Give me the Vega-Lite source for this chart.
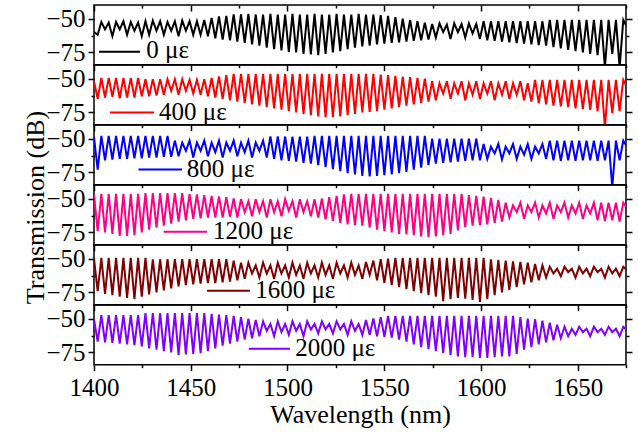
{
"$schema": "https://vega.github.io/schema/vega-lite/v6.json",
"background": "white",
"padding": {"left": 21, "top": 3, "right": 8, "bottom": 5},
"bounds": "flush",
"spacing": 0,
"config": {
 "view": {"stroke": "#000000", "strokeWidth": 1.5},
 "font": "Liberation Serif",
 "line": {"strokeWidth": 2},
 "axis": {"domain": false, "grid": false, "labelFont": "Liberation Serif", "labelFontSize": 25, "labelColor": "#000000", "titleFont": "Liberation Serif", "titleFontSize": 26, "titleFontWeight": "normal", "titleColor": "#000000", "tickColor": "#000000", "tickWidth": 1.5, "labelFlush": false, "labelOverlap": false}
},
"data": {"values": [
{"x":1400.0,"a":-60,"b":-52,"c":-49,"d":-47,"e":-50,"f":-50.5},
{"x":1401.9,"a":-62,"b":-65,"c":-73,"d":-74,"e":-74,"f":-67},
{"x":1403.8,"a":-52.5,"b":-49.5,"c":-48,"d":-46.5,"e":-49.5,"f":-47.5},
{"x":1405.7,"a":-58,"b":-64,"c":-66,"d":-75,"e":-76,"f":-67.5},
{"x":1407.6,"a":-53,"b":-49.5,"c":-48,"d":-46.5,"e":-49.5,"f":-47.5},
{"x":1409.5,"a":-63,"b":-63.5,"c":-65.5,"d":-76,"e":-77,"f":-68},
{"x":1411.4,"a":-52.5,"b":-49.5,"c":-48,"d":-46.5,"e":-49.5,"f":-47.5},
{"x":1413.3,"a":-58,"b":-64.5,"c":-65,"d":-77.5,"e":-78,"f":-68.5},
{"x":1415.2,"a":-52,"b":-49.5,"c":-48,"d":-46.5,"e":-49.5,"f":-47.5},
{"x":1417.1,"a":-62,"b":-64,"c":-65,"d":-77.5,"e":-79,"f":-69},
{"x":1419.0,"a":-52.5,"b":-49.5,"c":-48,"d":-46.5,"e":-49.5,"f":-47.5},
{"x":1420.9,"a":-59,"b":-64,"c":-64.5,"d":-77,"e":-80,"f":-69.5},
{"x":1422.8,"a":-53,"b":-49.5,"c":-48,"d":-46.5,"e":-49.5,"f":-47.5},
{"x":1424.7,"a":-63,"b":-63,"c":-64.5,"d":-75,"e":-78,"f":-70.5},
{"x":1426.6,"a":-52,"b":-50.5,"c":-48,"d":-46,"e":-49.5,"f":-46},
{"x":1428.5,"a":-62,"b":-63,"c":-64,"d":-73,"e":-76.5,"f":-72},
{"x":1430.4,"a":-51.5,"b":-50.5,"c":-48,"d":-46,"e":-50.5,"f":-46},
{"x":1432.3,"a":-59,"b":-62.5,"c":-64,"d":-71.5,"e":-75,"f":-73},
{"x":1434.2,"a":-52,"b":-50.5,"c":-48,"d":-46,"e":-50.5,"f":-46},
{"x":1436.1,"a":-62,"b":-62,"c":-63.5,"d":-70,"e":-73.5,"f":-74},
{"x":1438.0,"a":-52.5,"b":-50.5,"c":-48,"d":-46,"e":-50.5,"f":-46},
{"x":1439.9,"a":-59,"b":-59,"c":-63.5,"d":-68.5,"e":-72,"f":-75},
{"x":1441.8,"a":-52,"b":-50.5,"c":-51.5,"d":-46,"e":-50.5,"f":-46},
{"x":1443.7,"a":-63,"b":-62,"c":-63,"d":-67,"e":-70.5,"f":-77},
{"x":1445.6,"a":-51.5,"b":-50.5,"c":-53,"d":-46,"e":-50.5,"f":-46},
{"x":1447.5,"a":-59,"b":-59,"c":-59,"d":-66,"e":-69.5,"f":-76.5},
{"x":1449.4,"a":-52,"b":-51,"c":-51.5,"d":-46.5,"e":-50.5,"f":-46},
{"x":1451.3,"a":-62,"b":-61,"c":-64,"d":-65,"e":-69,"f":-76},
{"x":1453.2,"a":-52,"b":-51,"c":-53,"d":-47,"e":-50.5,"f":-46},
{"x":1455.1,"a":-62,"b":-62,"c":-59,"d":-64.5,"e":-68.5,"f":-75.5},
{"x":1457.0,"a":-51,"b":-50.5,"c":-51.5,"d":-47.5,"e":-50.5,"f":-46},
{"x":1458.9,"a":-63,"b":-63,"c":-63,"d":-64,"e":-68,"f":-74},
{"x":1460.8,"a":-49.5,"b":-49.5,"c":-53,"d":-48,"e":-50.5,"f":-46.5},
{"x":1462.7,"a":-64.5,"b":-64,"c":-60,"d":-64,"e":-68,"f":-72},
{"x":1464.6,"a":-48.5,"b":-48.5,"c":-51.5,"d":-48.5,"e":-50.5,"f":-47},
{"x":1466.5,"a":-65.5,"b":-65,"c":-64,"d":-64,"e":-67.5,"f":-70},
{"x":1468.4,"a":-48,"b":-47.5,"c":-53,"d":-49,"e":-50.5,"f":-47.5},
{"x":1470.3,"a":-66,"b":-66,"c":-59,"d":-63.5,"e":-67,"f":-68.5},
{"x":1472.2,"a":-47,"b":-46.5,"c":-51.5,"d":-50,"e":-51.5,"f":-48},
{"x":1474.1,"a":-67,"b":-67,"c":-63,"d":-64,"e":-66,"f":-67},
{"x":1476.0,"a":-47,"b":-46.5,"c":-53,"d":-50.5,"e":-53,"f":-49},
{"x":1477.9,"a":-68,"b":-68,"c":-60,"d":-60,"e":-65,"f":-65.5},
{"x":1479.8,"a":-46.5,"b":-46.5,"c":-51.5,"d":-52,"e":-53,"f":-50},
{"x":1481.7,"a":-69,"b":-69,"c":-64,"d":-63,"e":-61,"f":-64.5},
{"x":1483.6,"a":-47,"b":-46.5,"c":-53,"d":-50.5,"e":-55,"f":-51},
{"x":1485.5,"a":-70,"b":-70,"c":-59,"d":-60,"e":-64,"f":-63},
{"x":1487.4,"a":-47,"b":-46.5,"c":-51.5,"d":-52,"e":-53,"f":-52},
{"x":1489.3,"a":-71.5,"b":-71,"c":-64,"d":-64,"e":-61,"f":-59},
{"x":1491.2,"a":-46.5,"b":-46.5,"c":-48.5,"d":-50.5,"e":-55,"f":-54},
{"x":1493.1,"a":-72.5,"b":-72,"c":-65,"d":-60,"e":-65,"f":-63},
{"x":1495.0,"a":-47,"b":-46.5,"c":-48.5,"d":-52,"e":-53,"f":-52},
{"x":1496.9,"a":-73.5,"b":-73,"c":-66,"d":-63,"e":-61,"f":-60},
{"x":1498.8,"a":-47,"b":-46.5,"c":-48.5,"d":-50.5,"e":-55,"f":-54},
{"x":1500.7,"a":-74.5,"b":-74,"c":-66.5,"d":-59,"e":-64,"f":-62},
{"x":1502.6,"a":-46.5,"b":-46.5,"c":-48.5,"d":-52,"e":-53,"f":-52},
{"x":1504.5,"a":-75,"b":-75,"c":-67,"d":-64,"e":-62,"f":-59},
{"x":1506.4,"a":-47,"b":-46.5,"c":-48.5,"d":-50.5,"e":-55,"f":-54},
{"x":1508.3,"a":-76,"b":-76,"c":-68,"d":-60,"e":-65,"f":-63},
{"x":1510.2,"a":-47,"b":-46.5,"c":-48.5,"d":-52,"e":-53,"f":-52},
{"x":1512.1,"a":-76.5,"b":-77,"c":-68.5,"d":-63,"e":-61,"f":-58},
{"x":1514.0,"a":-46.5,"b":-46.5,"c":-48,"d":-50.5,"e":-55,"f":-54},
{"x":1515.9,"a":-77,"b":-78,"c":-69.5,"d":-64,"e":-64,"f":-61},
{"x":1517.8,"a":-47,"b":-46.5,"c":-48,"d":-50,"e":-53,"f":-52},
{"x":1519.7,"a":-76,"b":-78.5,"c":-71,"d":-65.5,"e":-62,"f":-58},
{"x":1521.6,"a":-47,"b":-46.5,"c":-48,"d":-49,"e":-55,"f":-54},
{"x":1523.5,"a":-75,"b":-78.5,"c":-72.5,"d":-66.5,"e":-65,"f":-61},
{"x":1525.4,"a":-46.5,"b":-46.5,"c":-48,"d":-48,"e":-53,"f":-52},
{"x":1527.3,"a":-74,"b":-78,"c":-74,"d":-68,"e":-61,"f":-58},
{"x":1529.2,"a":-47,"b":-46.5,"c":-48,"d":-47,"e":-55,"f":-54},
{"x":1531.1,"a":-72.5,"b":-77,"c":-75.5,"d":-69,"e":-64,"f":-62},
{"x":1533.0,"a":-47,"b":-46.5,"c":-48,"d":-46.5,"e":-53,"f":-52},
{"x":1534.9,"a":-71.5,"b":-76,"c":-76.5,"d":-69.5,"e":-62,"f":-59},
{"x":1536.8,"a":-46.5,"b":-46.5,"c":-48,"d":-46.5,"e":-55,"f":-54},
{"x":1538.7,"a":-70.5,"b":-75,"c":-77.5,"d":-70,"e":-65,"f":-62},
{"x":1540.6,"a":-47,"b":-46.5,"c":-48,"d":-46.5,"e":-52.5,"f":-51},
{"x":1542.5,"a":-70,"b":-74.5,"c":-78,"d":-71.5,"e":-62,"f":-62},
{"x":1544.4,"a":-47,"b":-46.5,"c":-48,"d":-46.5,"e":-51.5,"f":-50},
{"x":1546.3,"a":-69,"b":-74,"c":-77.5,"d":-73,"e":-66,"f":-63},
{"x":1548.2,"a":-47.5,"b":-47,"c":-48,"d":-46.5,"e":-50.5,"f":-49},
{"x":1550.1,"a":-68.5,"b":-73,"c":-77,"d":-74,"e":-68,"f":-63.5},
{"x":1552.0,"a":-48,"b":-47.5,"c":-48,"d":-46.5,"e":-50,"f":-48},
{"x":1553.9,"a":-68,"b":-72,"c":-76.5,"d":-75,"e":-69.5,"f":-64},
{"x":1555.8,"a":-49,"b":-48,"c":-48,"d":-46.5,"e":-49.5,"f":-48},
{"x":1557.7,"a":-67.5,"b":-71,"c":-75.5,"d":-76,"e":-71,"f":-65.5},
{"x":1559.6,"a":-50,"b":-48.5,"c":-48,"d":-46.5,"e":-49.5,"f":-48},
{"x":1561.5,"a":-67,"b":-70,"c":-74.5,"d":-76.5,"e":-72.5,"f":-67},
{"x":1563.4,"a":-51,"b":-49,"c":-48,"d":-46.5,"e":-49.5,"f":-48},
{"x":1565.3,"a":-66.5,"b":-69,"c":-73,"d":-77,"e":-74,"f":-69},
{"x":1567.2,"a":-52,"b":-49.5,"c":-48,"d":-46.5,"e":-49.5,"f":-48},
{"x":1569.1,"a":-66,"b":-68,"c":-71.5,"d":-78,"e":-75.5,"f":-71},
{"x":1571.0,"a":-53,"b":-50,"c":-48,"d":-46.5,"e":-49.5,"f":-48},
{"x":1572.9,"a":-65.5,"b":-67,"c":-69.5,"d":-78.5,"e":-77,"f":-72.5},
{"x":1574.8,"a":-54,"b":-52,"c":-50,"d":-46.5,"e":-49.5,"f":-48},
{"x":1576.7,"a":-64,"b":-66,"c":-68.5,"d":-78,"e":-78,"f":-74},
{"x":1578.6,"a":-53.5,"b":-53.5,"c":-50,"d":-46.5,"e":-49.5,"f":-48},
{"x":1580.5,"a":-60,"b":-61,"c":-68,"d":-77,"e":-81.5,"f":-75.5},
{"x":1582.4,"a":-54.5,"b":-52,"c":-50,"d":-46.5,"e":-49.5,"f":-48},
{"x":1584.3,"a":-65,"b":-65,"c":-67.5,"d":-76,"e":-80,"f":-77},
{"x":1586.2,"a":-53.5,"b":-53.5,"c":-50,"d":-46.5,"e":-49.5,"f":-48},
{"x":1588.1,"a":-60,"b":-61,"c":-67,"d":-73.5,"e":-79,"f":-78},
{"x":1590.0,"a":-54,"b":-52,"c":-50,"d":-46.5,"e":-49.5,"f":-48},
{"x":1591.9,"a":-64,"b":-66,"c":-66.5,"d":-71,"e":-79.5,"f":-78.5},
{"x":1593.8,"a":-53.5,"b":-53.5,"c":-50,"d":-47.5,"e":-49.5,"f":-48},
{"x":1595.7,"a":-61,"b":-62,"c":-66,"d":-70,"e":-80.5,"f":-78.5},
{"x":1597.6,"a":-54,"b":-52,"c":-50,"d":-48,"e":-49.5,"f":-48},
{"x":1599.5,"a":-65,"b":-65,"c":-66,"d":-69.5,"e":-82,"f":-79},
{"x":1601.4,"a":-52,"b":-53.5,"c":-54,"d":-48.5,"e":-49.5,"f":-48},
{"x":1603.3,"a":-66,"b":-61,"c":-65,"d":-69,"e":-80,"f":-79},
{"x":1605.2,"a":-52,"b":-52,"c":-56,"d":-49.5,"e":-50.5,"f":-48},
{"x":1607.1,"a":-66.5,"b":-66,"c":-61,"d":-68,"e":-77,"f":-78.5},
{"x":1609.0,"a":-52,"b":-53.5,"c":-54,"d":-51,"e":-51,"f":-48},
{"x":1610.9,"a":-67,"b":-62,"c":-65.5,"d":-67,"e":-75,"f":-78},
{"x":1612.8,"a":-52,"b":-52,"c":-56,"d":-53,"e":-51.5,"f":-48},
{"x":1614.7,"a":-67.5,"b":-65,"c":-61,"d":-64,"e":-73,"f":-78},
{"x":1616.6,"a":-52,"b":-53.5,"c":-54,"d":-55,"e":-52,"f":-48},
{"x":1618.5,"a":-68,"b":-62,"c":-65,"d":-60,"e":-71,"f":-76},
{"x":1620.4,"a":-52,"b":-52,"c":-56,"d":-53,"e":-52.5,"f":-49},
{"x":1622.3,"a":-68.5,"b":-66,"c":-62,"d":-65,"e":-69,"f":-73},
{"x":1624.2,"a":-52,"b":-53.5,"c":-54,"d":-55,"e":-53,"f":-50},
{"x":1626.1,"a":-69,"b":-67,"c":-65,"d":-60,"e":-67.5,"f":-71},
{"x":1628.0,"a":-52,"b":-51,"c":-56,"d":-53,"e":-54,"f":-50.5},
{"x":1629.9,"a":-69.5,"b":-68,"c":-61,"d":-64,"e":-66,"f":-69},
{"x":1631.8,"a":-52,"b":-51,"c":-54,"d":-55,"e":-55,"f":-51.5},
{"x":1633.7,"a":-70,"b":-69,"c":-65,"d":-61,"e":-64,"f":-67.5},
{"x":1635.6,"a":-51,"b":-51,"c":-51.5,"d":-53,"e":-56,"f":-53},
{"x":1637.5,"a":-71,"b":-70,"c":-66,"d":-65,"e":-61,"f":-66},
{"x":1639.4,"a":-51,"b":-51,"c":-51.5,"d":-55,"e":-57.5,"f":-54.5},
{"x":1641.3,"a":-72,"b":-70.5,"c":-66.5,"d":-60,"e":-63,"f":-64.5},
{"x":1643.2,"a":-51,"b":-51,"c":-51.5,"d":-53,"e":-56,"f":-56},
{"x":1645.1,"a":-73,"b":-71,"c":-66,"d":-64,"e":-60,"f":-63},
{"x":1647.0,"a":-51,"b":-51,"c":-51.5,"d":-55,"e":-57.5,"f":-57.5},
{"x":1648.9,"a":-74,"b":-72,"c":-66.5,"d":-61,"e":-64,"f":-62},
{"x":1650.8,"a":-51,"b":-51,"c":-51.5,"d":-53,"e":-56,"f":-56},
{"x":1652.7,"a":-75,"b":-72.5,"c":-66,"d":-65,"e":-61,"f":-60},
{"x":1654.6,"a":-51,"b":-51,"c":-51.5,"d":-55,"e":-57.5,"f":-57.5},
{"x":1656.5,"a":-76,"b":-73,"c":-66,"d":-61,"e":-63,"f":-63},
{"x":1658.4,"a":-51,"b":-51,"c":-51.5,"d":-53,"e":-56,"f":-56},
{"x":1660.3,"a":-77,"b":-74,"c":-66.5,"d":-66,"e":-60,"f":-60},
{"x":1662.2,"a":-51,"b":-51,"c":-51.5,"d":-53,"e":-57.5,"f":-57.5},
{"x":1664.1,"a":-86,"b":-86,"c":-66,"d":-66.5,"e":-64,"f":-62},
{"x":1666.0,"a":-51,"b":-51,"c":-51.5,"d":-53,"e":-56,"f":-56},
{"x":1667.9,"a":-76,"b":-75.5,"c":-86,"d":-66,"e":-61,"f":-60},
{"x":1669.8,"a":-51,"b":-51,"c":-51.5,"d":-53,"e":-57.5,"f":-57.5},
{"x":1671.7,"a":-86,"b":-74,"c":-66,"d":-67,"e":-63,"f":-63},
{"x":1673.6,"a":-51,"b":-51,"c":-51.5,"d":-53,"e":-56,"f":-56},
{"x":1675.0,"a":-55,"b":-55,"c":-55,"d":-56,"e":-58,"f":-58}
]},
"vconcat": [
{"width":532,"height":59.67,
 "layer":[
  {"mark":{"type":"line","color":"#000000","clip":true},
   "encoding":{"x":{"field":"x","type":"quantitative","scale":{"domain":[1400,1675],"nice":false,"zero":false},"axis":{"orient":"bottom","values":[1400,1450,1500,1550,1600,1650],"labels":false,"tickSize":6,"title":null}},
               "y":{"field":"a","type":"quantitative","scale":{"domain":[-84,-40],"nice":false,"zero":false},"axis":{"orient":"left","values":[-75,-50],"labelExpr":"datum.value == -50 ? '−50' : '−75'","tickSize":6,"labelPadding":3,"title":null}}}},
  {"mark":{"type":"line","opacity":0,"clip":true},
   "encoding":{"x":{"field":"x","type":"quantitative","scale":{"domain":[1400,1675],"nice":false,"zero":false},"axis":{"orient":"bottom","values":[1425,1475,1525,1575,1625,1675],"labels":false,"tickSize":3,"title":null}},
               "y":{"field":"a","type":"quantitative","scale":{"domain":[-84,-40],"nice":false,"zero":false},"axis":{"orient":"left","values":[-62.5],"labels":false,"tickSize":3,"title":null}}}},
  {"mark":{"type":"line","opacity":0,"clip":true},
   "encoding":{"x":{"field":"x","type":"quantitative","scale":{"domain":[1400,1675],"nice":false,"zero":false},"axis":{"orient":"top","values":[1400,1450,1500,1550,1600,1650],"labels":false,"tickSize":-6,"title":null}},
               "y":{"field":"a","type":"quantitative","scale":{"domain":[-84,-40],"nice":false,"zero":false},"axis":{"orient":"right","values":[-75,-50],"labels":false,"tickSize":6,"title":null}}}},
  {"mark":{"type":"line","opacity":0,"clip":true},
   "encoding":{"x":{"field":"x","type":"quantitative","scale":{"domain":[1400,1675],"nice":false,"zero":false},"axis":{"orient":"top","values":[1425,1475,1525,1575,1625,1675],"labels":false,"tickSize":-3,"title":null}},
               "y":{"field":"a","type":"quantitative","scale":{"domain":[-84,-40],"nice":false,"zero":false},"axis":{"orient":"right","values":[-62.5],"labels":false,"tickSize":3,"title":null}}}},
  {"data":{"values":[{}]},"mark":{"type":"rule","color":"#000000","strokeWidth":2},
   "encoding":{"x":{"datum":1402.6,"type":"quantitative","axis":null},"x2":{"datum":1423.8},"y":{"datum":-74.5,"type":"quantitative","axis":null}}},
  {"data":{"values":[{}]},"mark":{"type":"text","text":"0 με","align":"left","baseline":"middle","fontSize":25,"font":"Liberation Serif","color":"#000000"},
   "encoding":{"x":{"datum":1427,"type":"quantitative","axis":null},"y":{"datum":-73.5,"type":"quantitative","axis":null}}}
 ],
 "resolve":{"axis":{"x":"independent","y":"independent"}}},
{"width":532,"height":59.67,
 "layer":[
  {"mark":{"type":"line","color":"#ff0000","clip":true},
   "encoding":{"x":{"field":"x","type":"quantitative","scale":{"domain":[1400,1675],"nice":false,"zero":false},"axis":{"orient":"bottom","values":[1400,1450,1500,1550,1600,1650],"labels":false,"tickSize":6,"title":null}},
               "y":{"field":"b","type":"quantitative","scale":{"domain":[-84,-40],"nice":false,"zero":false},"axis":{"orient":"left","values":[-75,-50],"labelExpr":"datum.value == -50 ? '−50' : '−75'","tickSize":6,"labelPadding":3,"title":null}}}},
  {"mark":{"type":"line","opacity":0,"clip":true},
   "encoding":{"x":{"field":"x","type":"quantitative","scale":{"domain":[1400,1675],"nice":false,"zero":false},"axis":{"orient":"bottom","values":[1425,1475,1525,1575,1625,1675],"labels":false,"tickSize":3,"title":null}},
               "y":{"field":"b","type":"quantitative","scale":{"domain":[-84,-40],"nice":false,"zero":false},"axis":{"orient":"left","values":[-62.5],"labels":false,"tickSize":3,"title":null}}}},
  {"mark":{"type":"line","opacity":0,"clip":true},
   "encoding":{"x":{"field":"x","type":"quantitative","scale":{"domain":[1400,1675],"nice":false,"zero":false},"axis":null},
               "y":{"field":"b","type":"quantitative","scale":{"domain":[-84,-40],"nice":false,"zero":false},"axis":{"orient":"right","values":[-75,-50],"labels":false,"tickSize":6,"title":null}}}},
  {"mark":{"type":"line","opacity":0,"clip":true},
   "encoding":{"x":{"field":"x","type":"quantitative","scale":{"domain":[1400,1675],"nice":false,"zero":false},"axis":null},
               "y":{"field":"b","type":"quantitative","scale":{"domain":[-84,-40],"nice":false,"zero":false},"axis":{"orient":"right","values":[-62.5],"labels":false,"tickSize":3,"title":null}}}},
  {"data":{"values":[{}]},"mark":{"type":"rule","color":"#ff0000","strokeWidth":2},
   "encoding":{"x":{"datum":1408.3,"type":"quantitative","axis":null},"x2":{"datum":1431},"y":{"datum":-75,"type":"quantitative","axis":null}}},
  {"data":{"values":[{}]},"mark":{"type":"text","text":"400 με","align":"left","baseline":"middle","fontSize":25,"font":"Liberation Serif","color":"#000000"},
   "encoding":{"x":{"datum":1433.6,"type":"quantitative","axis":null},"y":{"datum":-74.5,"type":"quantitative","axis":null}}}
 ],
 "resolve":{"axis":{"x":"independent","y":"independent"}}},
{"width":532,"height":59.67,
 "layer":[
  {"mark":{"type":"line","color":"#0000ff","clip":true},
   "encoding":{"x":{"field":"x","type":"quantitative","scale":{"domain":[1400,1675],"nice":false,"zero":false},"axis":{"orient":"bottom","values":[1400,1450,1500,1550,1600,1650],"labels":false,"tickSize":6,"title":null}},
               "y":{"field":"c","type":"quantitative","scale":{"domain":[-84,-40],"nice":false,"zero":false},"axis":{"orient":"left","values":[-75,-50],"labelExpr":"datum.value == -50 ? '−50' : '−75'","tickSize":6,"labelPadding":3,"title":null}}}},
  {"mark":{"type":"line","opacity":0,"clip":true},
   "encoding":{"x":{"field":"x","type":"quantitative","scale":{"domain":[1400,1675],"nice":false,"zero":false},"axis":{"orient":"bottom","values":[1425,1475,1525,1575,1625,1675],"labels":false,"tickSize":3,"title":null}},
               "y":{"field":"c","type":"quantitative","scale":{"domain":[-84,-40],"nice":false,"zero":false},"axis":{"orient":"left","values":[-62.5],"labels":false,"tickSize":3,"title":null}}}},
  {"mark":{"type":"line","opacity":0,"clip":true},
   "encoding":{"x":{"field":"x","type":"quantitative","scale":{"domain":[1400,1675],"nice":false,"zero":false},"axis":null},
               "y":{"field":"c","type":"quantitative","scale":{"domain":[-84,-40],"nice":false,"zero":false},"axis":{"orient":"right","values":[-75,-50],"labels":false,"tickSize":6,"title":null}}}},
  {"mark":{"type":"line","opacity":0,"clip":true},
   "encoding":{"x":{"field":"x","type":"quantitative","scale":{"domain":[1400,1675],"nice":false,"zero":false},"axis":null},
               "y":{"field":"c","type":"quantitative","scale":{"domain":[-84,-40],"nice":false,"zero":false},"axis":{"orient":"right","values":[-62.5],"labels":false,"tickSize":3,"title":null}}}},
  {"data":{"values":[{}]},"mark":{"type":"rule","color":"#0000ff","strokeWidth":2},
   "encoding":{"x":{"datum":1423,"type":"quantitative","axis":null},"x2":{"datum":1445.5},"y":{"datum":-72.75,"type":"quantitative","axis":null}}},
  {"data":{"values":[{}]},"mark":{"type":"text","text":"800 με","align":"left","baseline":"middle","fontSize":25,"font":"Liberation Serif","color":"#000000"},
   "encoding":{"x":{"datum":1448,"type":"quantitative","axis":null},"y":{"datum":-72.25,"type":"quantitative","axis":null}}}
 ],
 "resolve":{"axis":{"x":"independent","y":"independent"}}},
{"width":532,"height":59.67,
 "layer":[
  {"mark":{"type":"line","color":"#ff0080","clip":true},
   "encoding":{"x":{"field":"x","type":"quantitative","scale":{"domain":[1400,1675],"nice":false,"zero":false},"axis":{"orient":"bottom","values":[1400,1450,1500,1550,1600,1650],"labels":false,"tickSize":6,"title":null}},
               "y":{"field":"d","type":"quantitative","scale":{"domain":[-84,-40],"nice":false,"zero":false},"axis":{"orient":"left","values":[-75,-50],"labelExpr":"datum.value == -50 ? '−50' : '−75'","tickSize":6,"labelPadding":3,"title":"Transmission (dB)","titleX":-50.5,"titleY":22,"titleAlign":"center","titleBaseline":"alphabetic","titleAngle":270}}}},
  {"mark":{"type":"line","opacity":0,"clip":true},
   "encoding":{"x":{"field":"x","type":"quantitative","scale":{"domain":[1400,1675],"nice":false,"zero":false},"axis":{"orient":"bottom","values":[1425,1475,1525,1575,1625,1675],"labels":false,"tickSize":3,"title":null}},
               "y":{"field":"d","type":"quantitative","scale":{"domain":[-84,-40],"nice":false,"zero":false},"axis":{"orient":"left","values":[-62.5],"labels":false,"tickSize":3,"title":null}}}},
  {"mark":{"type":"line","opacity":0,"clip":true},
   "encoding":{"x":{"field":"x","type":"quantitative","scale":{"domain":[1400,1675],"nice":false,"zero":false},"axis":null},
               "y":{"field":"d","type":"quantitative","scale":{"domain":[-84,-40],"nice":false,"zero":false},"axis":{"orient":"right","values":[-75,-50],"labels":false,"tickSize":6,"title":null}}}},
  {"mark":{"type":"line","opacity":0,"clip":true},
   "encoding":{"x":{"field":"x","type":"quantitative","scale":{"domain":[1400,1675],"nice":false,"zero":false},"axis":null},
               "y":{"field":"d","type":"quantitative","scale":{"domain":[-84,-40],"nice":false,"zero":false},"axis":{"orient":"right","values":[-62.5],"labels":false,"tickSize":3,"title":null}}}},
  {"data":{"values":[{}]},"mark":{"type":"rule","color":"#ff0080","strokeWidth":2},
   "encoding":{"x":{"datum":1436,"type":"quantitative","axis":null},"x2":{"datum":1458.4},"y":{"datum":-74.5,"type":"quantitative","axis":null}}},
  {"data":{"values":[{}]},"mark":{"type":"text","text":"1200 με","align":"left","baseline":"middle","fontSize":25,"font":"Liberation Serif","color":"#000000"},
   "encoding":{"x":{"datum":1461.5,"type":"quantitative","axis":null},"y":{"datum":-74,"type":"quantitative","axis":null}}}
 ],
 "resolve":{"axis":{"x":"independent","y":"independent"}}},
{"width":532,"height":59.67,
 "layer":[
  {"mark":{"type":"line","color":"#800000","clip":true},
   "encoding":{"x":{"field":"x","type":"quantitative","scale":{"domain":[1400,1675],"nice":false,"zero":false},"axis":{"orient":"bottom","values":[1400,1450,1500,1550,1600,1650],"labels":false,"tickSize":6,"title":null}},
               "y":{"field":"e","type":"quantitative","scale":{"domain":[-84,-40],"nice":false,"zero":false},"axis":{"orient":"left","values":[-75,-50],"labelExpr":"datum.value == -50 ? '−50' : '−75'","tickSize":6,"labelPadding":3,"title":null}}}},
  {"mark":{"type":"line","opacity":0,"clip":true},
   "encoding":{"x":{"field":"x","type":"quantitative","scale":{"domain":[1400,1675],"nice":false,"zero":false},"axis":{"orient":"bottom","values":[1425,1475,1525,1575,1625,1675],"labels":false,"tickSize":3,"title":null}},
               "y":{"field":"e","type":"quantitative","scale":{"domain":[-84,-40],"nice":false,"zero":false},"axis":{"orient":"left","values":[-62.5],"labels":false,"tickSize":3,"title":null}}}},
  {"mark":{"type":"line","opacity":0,"clip":true},
   "encoding":{"x":{"field":"x","type":"quantitative","scale":{"domain":[1400,1675],"nice":false,"zero":false},"axis":null},
               "y":{"field":"e","type":"quantitative","scale":{"domain":[-84,-40],"nice":false,"zero":false},"axis":{"orient":"right","values":[-75,-50],"labels":false,"tickSize":6,"title":null}}}},
  {"mark":{"type":"line","opacity":0,"clip":true},
   "encoding":{"x":{"field":"x","type":"quantitative","scale":{"domain":[1400,1675],"nice":false,"zero":false},"axis":null},
               "y":{"field":"e","type":"quantitative","scale":{"domain":[-84,-40],"nice":false,"zero":false},"axis":{"orient":"right","values":[-62.5],"labels":false,"tickSize":3,"title":null}}}},
  {"data":{"values":[{}]},"mark":{"type":"rule","color":"#800000","strokeWidth":2},
   "encoding":{"x":{"datum":1458.4,"type":"quantitative","axis":null},"x2":{"datum":1480.6},"y":{"datum":-73.75,"type":"quantitative","axis":null}}},
  {"data":{"values":[{}]},"mark":{"type":"text","text":"1600 με","align":"left","baseline":"middle","fontSize":25,"font":"Liberation Serif","color":"#000000"},
   "encoding":{"x":{"datum":1483.3,"type":"quantitative","axis":null},"y":{"datum":-73.25,"type":"quantitative","axis":null}}}
 ],
 "resolve":{"axis":{"x":"independent","y":"independent"}}},
{"width":532,"height":59.67,
 "layer":[
  {"mark":{"type":"line","color":"#8000ff","clip":true},
   "encoding":{"x":{"field":"x","type":"quantitative","scale":{"domain":[1400,1675],"nice":false,"zero":false},"axis":{"orient":"bottom","values":[1400,1450,1500,1550,1600,1650],"format":"d","labelPadding":5,"tickSize":6,"title":"Wavelength (nm)","titleBaseline":"alphabetic","titleY":58}},
               "y":{"field":"f","type":"quantitative","scale":{"domain":[-84,-40],"nice":false,"zero":false},"axis":{"orient":"left","values":[-75,-50],"labelExpr":"datum.value == -50 ? '−50' : '−75'","tickSize":6,"labelPadding":3,"title":null}}}},
  {"mark":{"type":"line","opacity":0,"clip":true},
   "encoding":{"x":{"field":"x","type":"quantitative","scale":{"domain":[1400,1675],"nice":false,"zero":false},"axis":{"orient":"bottom","values":[1425,1475,1525,1575,1625,1675],"labels":false,"tickSize":3,"title":null}},
               "y":{"field":"f","type":"quantitative","scale":{"domain":[-84,-40],"nice":false,"zero":false},"axis":{"orient":"left","values":[-62.5],"labels":false,"tickSize":3,"title":null}}}},
  {"mark":{"type":"line","opacity":0,"clip":true},
   "encoding":{"x":{"field":"x","type":"quantitative","scale":{"domain":[1400,1675],"nice":false,"zero":false},"axis":null},
               "y":{"field":"f","type":"quantitative","scale":{"domain":[-84,-40],"nice":false,"zero":false},"axis":{"orient":"right","values":[-75,-50],"labels":false,"tickSize":6,"title":null}}}},
  {"mark":{"type":"line","opacity":0,"clip":true},
   "encoding":{"x":{"field":"x","type":"quantitative","scale":{"domain":[1400,1675],"nice":false,"zero":false},"axis":null},
               "y":{"field":"f","type":"quantitative","scale":{"domain":[-84,-40],"nice":false,"zero":false},"axis":{"orient":"right","values":[-62.5],"labels":false,"tickSize":3,"title":null}}}},
  {"data":{"values":[{}]},"mark":{"type":"rule","color":"#8000ff","strokeWidth":2},
   "encoding":{"x":{"datum":1480,"type":"quantitative","axis":null},"x2":{"datum":1501.3},"y":{"datum":-72.25,"type":"quantitative","axis":null}}},
  {"data":{"values":[{}]},"mark":{"type":"text","text":"2000 με","align":"left","baseline":"middle","fontSize":25,"font":"Liberation Serif","color":"#000000"},
   "encoding":{"x":{"datum":1504,"type":"quantitative","axis":null},"y":{"datum":-71.75,"type":"quantitative","axis":null}}}
 ],
 "resolve":{"axis":{"x":"independent","y":"independent"}}}
]
}
